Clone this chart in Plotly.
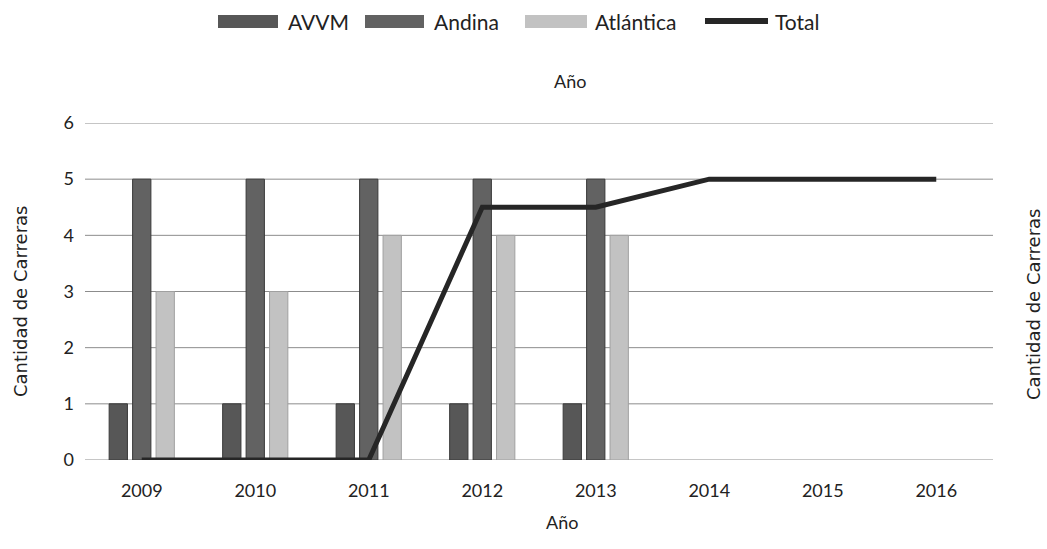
import plotly.graph_objects as go

years = ["2009", "2010", "2011", "2012", "2013", "2014", "2015", "2016"]
avvm = [1, 1, 1, 1, 1, None, None, None]
andina = [5, 5, 5, 5, 5, None, None, None]
atlantica = [3, 3, 4, 4, 4, None, None, None]
total = [0, 0, 0, 4.5, 4.5, 5, 5, 5]
y_ticks = [0, 1, 2, 3, 4, 5, 6]

series_names = ["AVVM", "Andina", "Atlántica", "Total"]
series_colors = ["#575757", "#626262", "#c2c2c2", "#262626"]
y_title = "Cantidad de Carreras"
x_title = "Año"

FONT = "Lato"
W, H = 1047, 549
ML, MR, MT, MB = 85, 54, 123, 89
PW, PH = W - ML - MR, H - MT - MB


def px_x(px):
    return (px - ML) / PW


def px_y(py):
    return (H - MB - py) / PH


fig = go.Figure()

# gridlines (drawn below the traces so the edge lines at 0 and 6 appear too)
for t in y_ticks:
    fig.add_shape(type="line", xref="paper", yref="y", x0=0, x1=1, y0=t, y1=t,
                  line=dict(color="#8c8c8c", width=1), layer="below")

for name, vals, col in zip(series_names[:3], [avvm, andina, atlantica], series_colors[:3]):
    fig.add_trace(go.Bar(name=name, x=years, y=vals, showlegend=False,
                         marker=dict(color=col, line=dict(color="#3a3a3a" if col != "#c2c2c2" else "#a0a0a0", width=1))))
fig.add_trace(go.Scatter(name="Total", x=years, y=total, mode="lines", showlegend=False,
                         line=dict(color=series_colors[3], width=5), yaxis="y2"))

fig.update_layout(
    width=W, height=H,
    margin=dict(l=ML, r=MR, t=MT, b=MB, autoexpand=False),
    paper_bgcolor="white", plot_bgcolor="white",
    font=dict(family=FONT, color="#222", size=18),
    barmode="group", bargap=0.38, bargroupgap=0.22,
    showlegend=False,
    xaxis=dict(showgrid=False, zeroline=False, showline=False, ticks="",
               tickfont=dict(size=18), automargin=False, ticklabelstandoff=18),
    yaxis=dict(range=[0, 6], tickvals=y_ticks, showgrid=False,
               zeroline=False, tickfont=dict(size=18), ticks="", ticklen=0,
               ticklabelstandoff=10, automargin=False),
    yaxis2=dict(range=[0, 6], overlaying="y", side="right", showticklabels=False,
                showgrid=False, zeroline=False, automargin=False),
)

# Legend drawn manually (wide swatches like the original)
legend_items = [(218, 278, 286), (365, 424, 432), (525, 587, 593), (705, 768, 773)]
for (sx0, sx1, tx), name, col in zip(legend_items, series_names, series_colors):
    if name == "Total":
        fig.add_shape(type="rect", xref="paper", yref="paper",
                      x0=px_x(sx0), x1=px_x(sx1), y0=px_y(24), y1=px_y(18),
                      fillcolor=col, line=dict(width=0))
    else:
        fig.add_shape(type="rect", xref="paper", yref="paper",
                      x0=px_x(sx0), x1=px_x(sx1), y0=px_y(28), y1=px_y(15),
                      fillcolor=col, line=dict(width=0))
    fig.add_annotation(text=name, xref="paper", yref="paper", x=px_x(tx), y=px_y(21),
                       xanchor="left", yanchor="middle", showarrow=False,
                       font=dict(size=21, color="#222"))

# Axis titles
fig.add_annotation(text=x_title, xref="paper", yref="paper", x=px_x(570), y=px_y(81),
                   xanchor="center", yanchor="middle", showarrow=False, font=dict(size=18))
fig.add_annotation(text=x_title, xref="paper", yref="paper", x=px_x(562), y=px_y(522),
                   xanchor="center", yanchor="middle", showarrow=False, font=dict(size=18))
fig.add_annotation(text=y_title, xref="paper", yref="paper", x=px_x(20), y=px_y(302),
                   xanchor="center", yanchor="middle", textangle=-90, showarrow=False,
                   font=dict(size=18, family="DejaVu Sans"))
fig.add_annotation(text=y_title, xref="paper", yref="paper", x=px_x(1033), y=px_y(305),
                   xanchor="center", yanchor="middle", textangle=-90, showarrow=False,
                   font=dict(size=18, family="DejaVu Sans"))

fig.write_html("out.html", config={"displayModeBar": False},
               post_script="document.body.style.margin='0px';")
